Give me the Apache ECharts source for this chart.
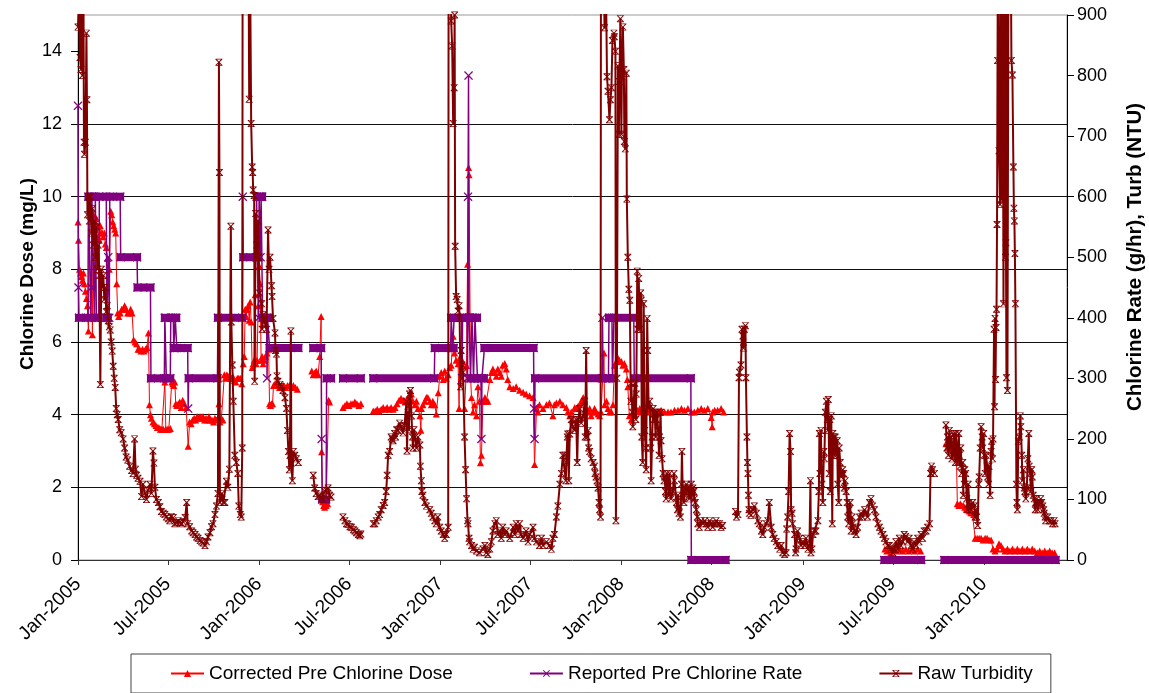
<!DOCTYPE html>
<html><head><meta charset="utf-8">
<script src="https://cdn.jsdelivr.net/npm/echarts@6/dist/echarts.min.js"></script>
<style>html,body{margin:0;padding:0;background:#fff}#c{width:1149px;height:693px}</style>
</head><body><div id="c"></div>
<script>
// x values are days since 1 Jan 2005
const xTickDays = [0,181,365,546,730,911,1095,1277,1461,1642,1826];
const xTickLabels = ['Jan-2005','Jul-2005','Jan-2006','Jul-2006','Jan-2007','Jul-2007','Jan-2008','Jul-2008','Jan-2009','Jul-2009','Jan-2010'];
const doseTicks = [0,2,4,6,8,10,12,14];
const rateTicks = [0,100,200,300,400,500,600,700,800,900];
const seriesNames = ['Corrected Pre Chlorine Dose','Reported Pre Chlorine Rate','Raw Turbidity'];

// Corrected Pre Chlorine Dose (mg/L, left axis)
const dose = [[0,9.3],[1,8.8],[3,8.0],[5,7.9],[7,7.8],[9,7.7],[11,7.9],[13,7.6],[15,7.4],[17,7.2],[19,7.0],[21,6.3],[23,9.5],[25,9.7],[27,9.6],[29,6.2],[31,9.5],[33,9.3],[35,9.1],[37,9.4],[39,9.2],[41,8.9],[43,8.8],[45,9.2],[47,9.0],[49,9.0],[51,8.9],[53,9.0],[55,8.7],[57,8.6],[60,8.3],[63,8.0],[66,9.6],[68,9.5],[70,9.3],[72,9.2],[74,9.1],[76,9.0],[78,7.6],[80,6.8],[82,6.7],[85,6.8],[88,6.9],[91,6.9],[94,7.0],[97,6.9],[100,6.8],[103,6.8],[106,6.9],[109,6.8],[112,6.06],[115,6.0],[118,5.95],[121,5.8],[124,5.8],[127,5.75],[130,5.8],[133,5.75],[136,5.8],[139,5.85],[142,6.25],[144,4.27],[146,4.0],[148,3.9],[151,3.8],[154,3.75],[157,3.7],[160,3.65],[163,3.65],[166,3.6],[169,3.6],[172,3.6],[175,4.9],[177,3.6],[180,3.6],[183,3.6],[186,3.62],[189,4.9],[191,4.85],[193,4.8],[195,4.9],[197,4.3],[199,4.25],[202,4.3],[205,4.35],[208,4.2],[211,4.4],[214,4.3],[218,4.2],[222,3.13],[225,3.8],[228,3.75],[231,3.85],[234,3.9],[237,3.85],[240,3.95],[243,3.9],[246,3.95],[249,3.9],[252,3.95],[255,3.85],[258,3.9],[261,3.85],[264,3.95],[267,3.85],[270,3.85],[273,3.8],[276,3.9],[279,3.85],[282,3.9],[284,4.3],[286,3.8],[289,3.9],[292,3.85],[295,5.1],[297,5.0],[300,5.1],[303,5.05],[306,5.0],[309,5.0],[312,5.05],[315,4.95],[318,4.9],[321,5.0],[324,5.0],[327,5.0],[330,4.85],[333,5.4],[335,5.6],[337,6.9],[339,6.7],[341,6.9],[343,7.0],[345,6.6],[347,7.1],[349,6.55],[351,5.3],[353,5.4],[355,5.5],[357,7.3],[359,5.4],[361,5.5],[363,7.0],[365,8.1],[367,7.6],[369,5.5],[371,5.6],[373,5.4],[375,5.5],[378,5.6],[381,5.7],[384,5.8],[386,4.3],[388,4.25],[390,4.3],[392,4.3],[394,4.8],[397,4.85],[400,4.9],[403,4.8],[406,4.75],[410,4.8],[414,4.8],[418,4.75],[422,4.8],[426,4.8],[430,4.75],[434,4.8],[438,4.75],[442,4.7],[458,null],[471,5.2],[474,5.1],[477,5.15],[480,5.2],[484,5.1],[487,5.6],[490,6.7],[491,2.98],[493,1.6],[495,1.5],[497,1.45],[500,1.5],[503,1.55],[505,4.4],[507,4.35],[520,null],[534,4.2],[538,4.25],[542,4.3],[546,4.25],[550,4.3],[554,4.3],[558,4.35],[562,4.3],[566,4.25],[570,4.3],[582,null],[595,4.1],[599,4.1],[603,4.15],[607,4.1],[611,4.15],[615,4.2],[619,4.15],[623,4.2],[627,4.15],[631,4.2],[635,4.15],[639,4.2],[643,4.3],[647,4.4],[651,4.45],[655,4.4],[659,4.35],[662,4.37],[665,4.47],[668,4.27],[672,4.57],[675,4.37],[679,4.27],[682,4.37],[685,4.17],[689,3.97],[691,3.57],[692,4.17],[695,4.27],[699,4.37],[702,4.47],[705,4.47],[709,4.37],[712,4.27],[715,4.37],[719,4.27],[722,4.02],[726,4.6],[729,5.06],[732,5.16],[736,4.97],[739,5.2],[742,5.0],[746,5.1],[749,5.3],[752,5.36],[756,6.16],[759,5.7],[762,5.5],[766,5.4],[768,4.17],[769,5.56],[773,5.4],[776,5.45],[779,4.17],[783,5.35],[785,8.14],[787,10.8],[788,10.6],[791,5.06],[793,4.47],[796,4.07],[799,4.27],[803,3.97],[806,4.77],[809,4.37],[811,2.68],[813,2.88],[816,4.37],[820,4.47],[823,4.37],[826,4.37],[830,4.97],[833,5.16],[836,5.26],[840,5.16],[843,5.06],[846,5.26],[850,5.16],[853,5.06],[856,5.36],[860,5.41],[863,5.26],[866,4.97],[870,4.77],[877,4.72],[883,4.77],[890,4.67],[897,4.62],[903,4.57],[910,4.52],[917,4.47],[920,2.63],[924,4.17],[927,4.07],[930,4.27],[937,4.17],[944,4.27],[950,4.32],[957,3.97],[960,4.27],[964,4.32],[971,4.37],[977,4.27],[984,4.2],[987,4.07],[991,3.97],[994,4.07],[997,3.87],[1001,4.2],[1004,4.17],[1007,4.22],[1011,4.27],[1014,4.37],[1018,4.47],[1021,4.42],[1024,4.17],[1028,4.07],[1031,4.17],[1034,3.97],[1038,4.07],[1041,4.17],[1044,4.07],[1048,4.02],[1051,3.97],[1054,4.07],[1060,5.7],[1061,4.27],[1065,4.37],[1068,4.17],[1071,4.07],[1075,4.07],[1078,4.27],[1081,5.36],[1085,5.46],[1088,5.56],[1091,5.5],[1095,5.46],[1098,5.36],[1101,5.41],[1105,5.26],[1107,4.97],[1108,4.77],[1111,3.97],[1115,3.87],[1118,4.07],[1122,3.97],[1125,4.07],[1128,4.12],[1132,4.17],[1135,4.07],[1138,4.17],[1142,4.07],[1145,4.12],[1148,4.17],[1152,4.07],[1155,4.17],[1158,4.12],[1162,4.07],[1169,4.07],[1175,4.12],[1182,4.07],[1189,4.07],[1195,4.07],[1202,4.12],[1209,4.12],[1216,4.17],[1222,4.12],[1229,4.17],[1236,4.07],[1242,4.07],[1249,4.12],[1256,4.17],[1262,4.12],[1269,4.17],[1276,3.92],[1278,3.67],[1279,4.07],[1283,4.12],[1289,4.12],[1296,4.17],[1301,4.07],[1320,null],[1626,0.3],[1630,0.25],[1634,0.3],[1638,0.2],[1642,0.3],[1645,0.3],[1650,0.25],[1656,0.3],[1662,0.25],[1668,0.3],[1674,0.25],[1680,0.3],[1686,0.25],[1692,0.3],[1698,0.25],[1720,null],[1749,3.2],[1752,3.1],[1755,3.25],[1758,3.1],[1761,3.2],[1764,3.0],[1767,3.15],[1770,3.0],[1772,1.55],[1775,1.5],[1778,1.55],[1781,1.5],[1784,1.5],[1787,1.45],[1790,1.4],[1793,1.4],[1796,1.35],[1799,1.3],[1802,1.3],[1805,1.25],[1808,0.6],[1812,0.6],[1816,0.6],[1820,0.6],[1824,0.55],[1828,0.6],[1832,0.6],[1836,0.55],[1840,0.55],[1844,0.3],[1848,0.25],[1852,0.3],[1856,0.45],[1860,0.4],[1864,0.3],[1868,0.25],[1873,0.3],[1878,0.25],[1883,0.3],[1888,0.25],[1893,0.3],[1898,0.25],[1903,0.3],[1908,0.25],[1913,0.3],[1918,0.25],[1923,0.3],[1928,0.25],[1933,0.2],[1938,0.25],[1943,0.2],[1948,0.25],[1953,0.2],[1958,0.25],[1963,0.2],[1968,0.2]];

// Reported Pre Chlorine Rate (g/hr, right axis)
const rate = [[0,750],[1,450],[2,400],[20,400],[21,600],[25,600],[26,400],[27,450],[28,600],[32,600],[33,400],[35,600],[37,400],[42,400],[43,600],[57,600],[58,400],[60,400],[61,500],[63,400],[64,600],[85,600],[86,500],[119,500],[120,450],[146,450],[147,300],[174,300],[175,400],[177,400],[178,300],[186,300],[187,400],[192,400],[193,350],[195,350],[196,400],[198,400],[199,350],[221,350],[222,250],[223,300],[281,300],[282,400],[331,400],[332,600],[333,500],[359,500],[360,600],[361,500],[363,500],[364,400],[365,600],[367,600],[368,500],[369,600],[371,600],[372,400],[380,400],[381,300],[382,400],[385,400],[386,350],[444,350],[458,null],[474,350],[490,350],[491,200],[492,100],[500,100],[501,300],[510,300],[522,null],[534,300],[570,300],[582,null],[595,300],[718,300],[719,350],[751,350],[752,400],[754,400],[755,350],[757,350],[758,400],[773,400],[774,300],[775,400],[784,400],[785,300],[786,600],[787,800],[788,400],[790,400],[791,300],[793,300],[794,400],[796,400],[797,300],[799,300],[800,400],[804,400],[805,300],[812,300],[813,200],[814,300],[818,300],[819,350],[918,350],[919,250],[920,200],[921,300],[1056,300],[1057,400],[1058,300],[1069,300],[1070,400],[1076,400],[1077,300],[1079,300],[1080,400],[1120,400],[1121,300],[1235,300],[1236,0],[1305,0],[1320,null],[1625,0],[1699,0],[1720,null],[1746,0],[1970,0]];

// Raw Turbidity (NTU, right axis)
const turbidity = [[0,880],[2,930],[4,830],[6,810],[7,950],[9,800],[11,950],[12,690],[13,670],[15,690],[17,870],[18,760],[19,570],[21,600],[23,560],[25,600],[27,540],[29,580],[31,520],[33,560],[35,500],[37,550],[39,480],[41,520],[43,470],[45,290],[47,480],[49,450],[51,470],[53,430],[55,450],[57,410],[59,420],[61,395],[63,385],[65,380],[67,360],[69,345],[71,320],[73,300],[75,285],[77,250],[79,240],[81,232],[84,215],[87,210],[91,200],[94,185],[97,170],[100,165],[104,155],[108,148],[111,143],[114,200],[116,150],[118,140],[121,135],[125,130],[128,105],[131,125],[135,110],[138,100],[141,115],[145,125],[148,110],[151,180],[153,160],[155,120],[158,100],[162,95],[165,88],[168,80],[172,77],[175,75],[178,71],[182,68],[185,65],[188,72],[192,70],[195,60],[199,62],[202,65],[205,62],[209,60],[212,63],[216,70],[219,95],[221,60],[225,55],[229,48],[232,45],[236,42],[239,38],[242,36],[246,32],[249,30],[252,28],[256,24],[259,30],[262,38],[266,45],[269,55],[272,60],[276,75],[279,89],[282,110],[284,822],[285,640],[286,95],[290,110],[293,95],[296,95],[299,130],[302,120],[305,150],[308,551],[309,393],[311,322],[313,262],[316,173],[319,161],[322,143],[324,89],[327,75],[329,71],[331,185],[332,1300],[340,1400],[343,1100],[345,761],[347,950],[349,721],[351,649],[352,640],[353,611],[355,602],[356,295],[358,572],[360,520],[362,500],[363,560],[364,500],[366,441],[370,423],[371,381],[373,405],[376,393],[380,381],[383,545],[385,480],[387,500],[390,453],[391,435],[393,399],[397,375],[398,346],[400,340],[401,304],[403,295],[407,290],[410,286],[413,280],[417,268],[420,250],[422,214],[424,179],[426,149],[427,173],[429,378],[430,160],[432,131],[434,179],[437,173],[440,167],[444,161],[458,null],[474,140],[477,119],[480,110],[484,105],[487,107],[491,102],[494,100],[497,114],[501,115],[504,119],[507,107],[510,104],[522,null],[534,71],[538,65],[541,60],[544,59],[548,55],[551,54],[555,50],[558,48],[561,45],[565,42],[568,40],[570,43],[582,null],[595,60],[598,60],[601,65],[605,71],[608,75],[611,83],[615,90],[618,95],[621,113],[623,140],[625,173],[628,179],[631,203],[633,200],[635,197],[638,209],[640,203],[642,215],[645,214],[648,226],[651,220],[655,210],[658,222],[662,262],[663,180],[665,244],[667,215],[668,274],[670,280],[672,238],[674,203],[675,185],[677,215],[679,203],[682,185],[685,203],[689,190],[690,155],[692,131],[693,113],[695,107],[699,95],[702,89],[709,83],[712,77],[715,71],[719,65],[722,60],[725,71],[729,54],[732,48],[736,42],[739,36],[742,42],[746,54],[747,1200],[749,1100],[752,890],[754,849],[756,721],[758,780],[759,900],[760,518],[762,435],[764,430],[766,411],[768,420],[769,399],[771,286],[772,346],[774,322],[776,310],[779,203],[781,149],[783,101],[785,65],[786,60],[788,36],[789,30],[793,24],[796,18],[799,21],[803,15],[809,12],[816,18],[820,24],[823,12],[826,9],[830,18],[833,30],[836,48],[840,60],[843,65],[846,42],[850,48],[853,36],[856,54],[860,42],[863,48],[870,36],[877,54],[880,42],[883,60],[887,48],[890,60],[893,42],[897,36],[903,48],[907,30],[910,42],[917,54],[920,36],[924,30],[930,24],[934,36],[937,24],[944,30],[950,24],[954,18],[957,36],[960,42],[964,71],[967,89],[971,125],[974,143],[977,173],[981,173],[983,131],[984,161],[986,203],[987,208],[989,131],[991,208],[994,232],[997,220],[1001,214],[1004,232],[1006,161],[1008,232],[1011,250],[1014,226],[1018,238],[1021,262],[1022,203],[1024,346],[1026,203],[1028,214],[1029,185],[1031,179],[1034,167],[1038,161],[1041,155],[1042,143],[1044,137],[1046,131],[1048,119],[1050,95],[1051,83],[1053,71],[1054,1200],[1058,1100],[1061,879],[1064,950],[1066,798],[1068,774],[1071,727],[1073,760],[1075,780],[1077,858],[1080,870],[1081,864],[1083,840],[1084,65],[1086,300],[1088,816],[1090,703],[1091,790],[1093,894],[1095,703],[1096,798],[1098,880],[1100,810],[1101,691],[1103,679],[1105,804],[1106,596],[1108,500],[1110,447],[1112,429],[1114,262],[1115,292],[1117,244],[1118,220],[1120,262],[1122,292],[1124,232],[1125,274],[1127,477],[1128,381],[1130,465],[1132,381],[1134,441],[1135,429],[1136,203],[1138,161],[1140,423],[1142,214],[1144,185],[1145,149],[1147,399],[1148,346],[1150,250],[1152,262],[1154,185],[1155,131],[1157,203],[1159,250],[1161,232],[1162,244],[1164,203],[1165,232],[1167,244],[1169,214],[1171,173],[1172,203],[1174,244],[1175,197],[1177,167],[1179,143],[1181,131],[1182,137],[1184,113],[1185,101],[1187,143],[1189,125],[1191,107],[1192,143],[1194,113],[1195,101],[1199,113],[1201,143],[1202,131],[1206,95],[1208,83],[1209,107],[1211,77],[1212,89],[1214,71],[1216,125],[1217,179],[1219,101],[1221,95],[1222,113],[1224,119],[1226,125],[1228,113],[1229,119],[1231,107],[1232,101],[1234,113],[1236,125],[1238,107],[1239,119],[1241,113],[1242,101],[1244,95],[1246,83],[1248,71],[1249,60],[1252,54],[1256,65],[1259,60],[1263,65],[1266,60],[1269,54],[1273,65],[1276,60],[1279,54],[1283,60],[1286,65],[1289,60],[1293,60],[1296,54],[1299,57],[1310,null],[1325,80],[1327,71],[1330,75],[1332,301],[1333,310],[1336,322],[1338,381],[1340,370],[1341,350],[1343,381],[1345,387],[1346,301],[1348,203],[1349,161],[1350,143],[1351,107],[1352,83],[1353,77],[1356,74],[1360,83],[1363,89],[1367,77],[1370,65],[1373,60],[1377,48],[1380,42],[1383,54],[1387,60],[1390,65],[1393,95],[1397,54],[1400,42],[1403,36],[1407,30],[1410,24],[1414,18],[1417,24],[1420,12],[1424,9],[1427,12],[1428,51],[1430,71],[1432,113],[1434,209],[1436,179],[1437,83],[1439,77],[1440,60],[1444,42],[1446,12],[1447,18],[1450,48],[1454,36],[1457,24],[1461,30],[1464,24],[1467,36],[1471,18],[1474,24],[1476,131],[1477,12],[1479,18],[1481,42],[1484,48],[1487,48],[1491,65],[1493,113],[1494,209],[1495,143],[1497,214],[1499,125],[1501,95],[1503,179],[1504,167],[1506,244],[1508,262],[1510,232],[1511,214],[1512,265],[1514,143],[1515,232],[1516,113],[1518,238],[1520,60],[1521,209],[1523,203],[1524,173],[1526,203],[1528,173],[1530,197],[1531,125],[1533,95],[1534,185],[1536,161],[1538,137],[1540,143],[1541,149],[1543,143],[1544,119],[1546,131],[1548,113],[1550,95],[1551,71],[1553,60],[1554,83],[1556,95],[1558,48],[1560,71],[1561,60],[1565,48],[1568,42],[1571,54],[1575,71],[1578,77],[1581,71],[1585,83],[1588,77],[1591,71],[1595,95],[1598,101],[1601,89],[1605,83],[1608,71],[1612,60],[1615,54],[1618,48],[1622,42],[1625,36],[1628,30],[1632,24],[1635,24],[1638,18],[1642,12],[1645,18],[1648,30],[1652,18],[1655,36],[1658,24],[1662,30],[1665,42],[1668,39],[1672,30],[1675,36],[1679,24],[1682,18],[1685,30],[1689,24],[1692,36],[1695,30],[1699,42],[1702,36],[1705,48],[1709,48],[1712,54],[1716,60],[1718,143],[1719,143],[1720,155],[1722,149],[1726,143],[1738,null],[1749,223],[1751,185],[1752,203],[1754,173],[1756,214],[1758,185],[1759,203],[1761,167],[1763,173],[1765,209],[1766,191],[1768,161],[1769,209],[1771,185],[1773,161],[1775,209],[1776,173],[1778,155],[1779,185],[1781,143],[1783,161],[1784,107],[1785,149],[1786,125],[1787,149],[1789,143],[1791,101],[1793,83],[1794,125],[1796,95],[1798,89],[1799,83],[1803,95],[1806,89],[1808,71],[1809,83],[1811,71],[1813,57],[1815,125],[1816,137],[1818,185],[1820,220],[1822,203],[1823,185],[1825,209],[1826,173],[1828,143],[1830,173],[1832,155],[1833,137],[1835,125],[1836,155],[1838,107],[1840,179],[1841,196],[1843,167],[1844,200],[1846,381],[1847,253],[1848,399],[1849,298],[1850,384],[1851,414],[1852,554],[1853,825],[1854,1100],[1856,676],[1858,587],[1859,858],[1860,1100],[1861,595],[1863,1100],[1865,423],[1867,1100],[1869,500],[1870,524],[1871,301],[1872,1100],[1873,280],[1875,1000],[1879,1100],[1881,825],[1883,801],[1885,649],[1886,581],[1887,560],[1888,506],[1889,423],[1891,125],[1892,95],[1893,83],[1895,196],[1897,203],[1899,238],[1900,220],[1902,173],[1903,131],[1905,149],[1907,119],[1908,113],[1910,101],[1912,119],[1914,167],[1916,209],[1917,155],[1919,143],[1920,113],[1922,149],[1923,137],[1925,107],[1927,101],[1929,83],[1930,95],[1932,101],[1934,83],[1937,95],[1940,101],[1942,95],[1944,89],[1946,83],[1947,77],[1949,71],[1950,65],[1954,71],[1957,65],[1961,65],[1964,60],[1967,65],[1969,60]];

// horizontal runs of the reported rate (consecutive equal readings)
const rateRuns = [];
for (let i = 0; i < rate.length - 1; i++) {
  const p = rate[i], q = rate[i + 1];
  if (p[1] != null && q[1] != null && p[1] === q[1]) rateRuns.push([p[0], q[0], p[1]]);
}

const FONT = '"Liberation Sans", Arial, sans-serif';
const X_PATH = 'path://M0,1L1,0L5,4L9,0L10,1L6,5L10,9L9,10L5,6L1,10L0,9L4,5Z';
const STAR_PATH = 'path://M0,1L1,0L5,4L9,0L10,1L6,5L10,9L9,10L5,6L1,10L0,9L4,5Z M0,0L10,0L10,1L0,1Z M0,9L10,9L10,10L0,10Z';

const chart = echarts.init(document.getElementById('c'), null, {renderer: 'canvas'});
chart.setOption({
  animation: false,
  backgroundColor: '#fff',
  grid: {left: 78, right: 82, top: 15, bottom: 133, show: true, borderColor: '#999', borderWidth: 1, backgroundColor: '#fff'},
  xAxis: {
    type: 'value', min: 0, max: 1993,
    axisLine: {show: true, onZero: false, lineStyle: {color: '#333', width: 1}},
    axisTick: {show: true, length: 5, customValues: xTickDays, lineStyle: {color: '#333'}},
    axisLabel: {customValues: xTickDays, rotate: 45, margin: 21, fontSize: 19, fontFamily: FONT, color: '#000',
      formatter: v => xTickLabels[xTickDays.indexOf(Math.round(v))] || ''},
    splitLine: {show: false}
  },
  yAxis: [
    {type: 'value', min: 0, max: 15, interval: 2, position: 'left',
      axisLine: {show: true, lineStyle: {color: '#000'}},
      axisTick: {show: true, length: 7, customValues: doseTicks, lineStyle: {color: '#000'}},
      axisLabel: {customValues: doseTicks, margin: 16, fontSize: 18, fontFamily: FONT, color: '#000'},
      splitLine: {show: true, showMinLine: false, showMaxLine: false, lineStyle: {color: '#111', width: 1}}},
    {type: 'value', min: 0, max: 900, interval: 100, position: 'right',
      axisLine: {show: true, lineStyle: {color: '#000'}},
      axisTick: {show: true, length: 7, customValues: rateTicks, lineStyle: {color: '#000'}},
      axisLabel: {customValues: rateTicks, margin: 10, fontSize: 18, fontFamily: FONT, color: '#000'},
      splitLine: {show: false}}
  ],
  legend: {
    data: seriesNames, left: 131, top: 654, orient: 'horizontal',
    padding: [10, 18, 10, 39], itemGap: 76, itemWidth: 33, itemHeight: 9,
    borderColor: '#444', borderWidth: 1, backgroundColor: '#fff',
    textStyle: {fontSize: 19, fontFamily: FONT, color: '#000'}
  },
  graphic: [
    {type: 'text', x: 28, y: 274, rotation: Math.PI / 2,
      style: {text: 'Chlorine Dose (mg/L)', font: 'bold 19px ' + FONT, fill: '#000', align: 'center', verticalAlign: 'middle'}},
    {type: 'text', x: 1135, y: 257, rotation: Math.PI / 2,
      style: {text: 'Chlorine Rate (g/hr), Turb (NTU)', font: 'bold 20.5px ' + FONT, fill: '#000', align: 'center', verticalAlign: 'middle'}}
  ],
  series: [
    {name: seriesNames[0], type: 'line', yAxisIndex: 0, data: dose, connectNulls: false,
      symbol: 'triangle', symbolSize: 7, showSymbol: true, clip: true,
      lineStyle: {color: '#FF0000', width: 1}, itemStyle: {color: '#FF0000'}, z: 2},
    {type: 'custom', yAxisIndex: 1, data: rateRuns, silent: true, clip: false, z: 3,
      encode: {x: [0, 1], y: 2},
      renderItem: (params, api) => {
        const a = api.coord([api.value(0), api.value(2)]);
        const b = api.coord([api.value(1), api.value(2)]);
        return {type: 'rect', shape: {x: a[0] - 4, y: a[1] - 4, width: b[0] - a[0] + 8, height: 8}, style: {fill: '#800080'}};
      }},
    {name: seriesNames[1], type: 'line', yAxisIndex: 1, data: rate, connectNulls: false,
      symbol: X_PATH, symbolSize: 9, showSymbol: true, clip: true,
      lineStyle: {color: '#800080', width: 1.5}, itemStyle: {color: '#800080'}, z: 4},
    {name: seriesNames[2], type: 'line', yAxisIndex: 1, data: turbidity, connectNulls: false,
      symbol: STAR_PATH, symbolSize: 7, showSymbol: true, clip: true,
      lineStyle: {color: '#800000', width: 2}, itemStyle: {color: '#800000'}, z: 5}
  ]
});
</script>
</body></html>
